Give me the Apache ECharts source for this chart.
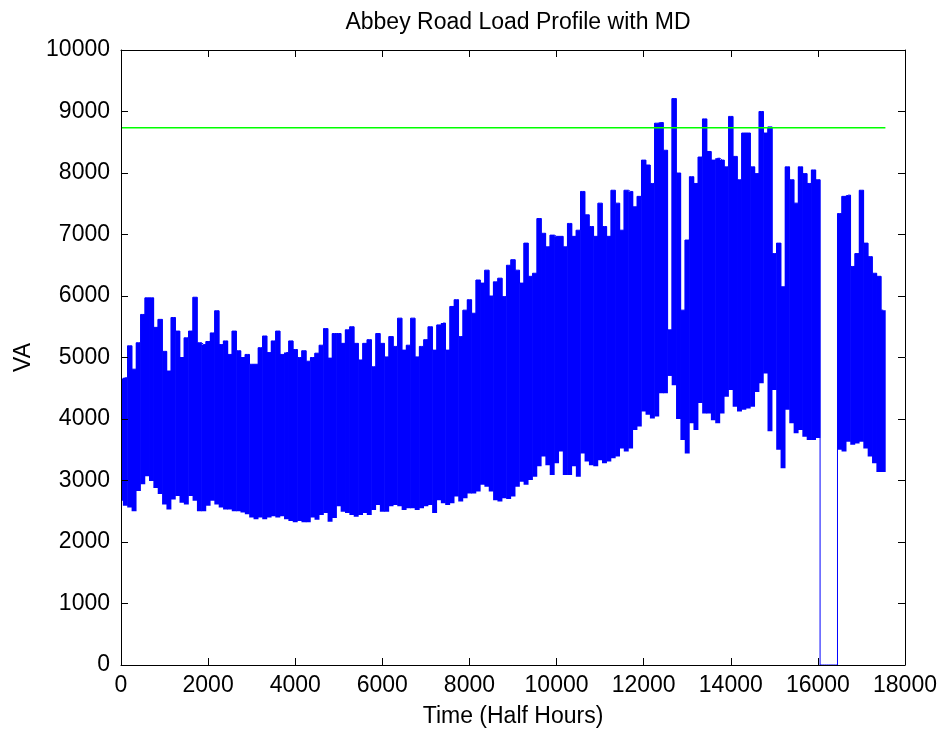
<!DOCTYPE html>
<html>
<head>
<meta charset="utf-8">
<script src="https://cdn.jsdelivr.net/npm/echarts@6/dist/echarts.min.js"></script>
<style>
html,body{margin:0;padding:0;background:#fff;}
#chart{width:941px;height:734px;}
</style>
</head>
<body>
<div id="chart"></div>
<script>
// Sample spacing of the envelope readings (half hours)
const timeStep = 100;
// Upper envelope of the load (VA), one reading per timeStep, starting at t = 0
const vaUpper = [
4650,4670,5190,4810,5240,5700,5970,5970,5490,5620,
5100,4780,5650,5430,5000,5320,5430,5980,5240,5210,
5260,5400,5760,5210,5270,5050,5430,5110,5000,5050,
4890,4890,5160,5350,5080,5270,5430,5050,5080,5270,
5130,5000,5110,4940,5000,5070,5200,5470,4990,5390,
5390,5230,5450,5500,5230,4960,5230,5290,4850,5390,
5230,5010,5340,5180,5640,5120,5200,5640,5010,5180,
5290,5500,5120,5530,5560,5120,5830,5940,5340,5770,
5940,5720,6260,6210,6420,6000,6230,6290,5990,6500,
6590,6420,6210,6860,6320,6370,7260,7020,6800,6990,
6970,6970,6800,7180,6970,7070,7700,7320,7130,6970,
7510,7130,6970,7720,7510,7070,7720,7700,7450,7620,
8210,8130,7830,8810,8820,8370,5450,9210,8000,5770,
6910,7940,7830,8260,8880,8350,8210,8240,8210,8100,
8920,8270,7890,8650,8650,8100,7990,9000,8650,8750,
6690,6860,6150,8100,7890,7510,8100,7990,7830,8050,
7890,0,0,0,0,7340,7620,7640,6480,6690,
7720,6860,6640,6370,6320,5770
];
// Lower envelope of the load (VA)
const vaLower = [
2670,2590,2560,2500,2830,2940,3070,2990,2880,2780,
2610,2530,2690,2750,2640,2610,2750,2670,2500,2500,
2590,2670,2610,2560,2530,2530,2500,2500,2480,2450,
2400,2370,2400,2370,2400,2420,2400,2420,2370,2340,
2320,2340,2320,2320,2400,2360,2440,2470,2330,2390,
2580,2490,2470,2440,2410,2440,2470,2440,2520,2600,
2490,2490,2580,2600,2580,2520,2550,2550,2520,2550,
2580,2600,2470,2680,2630,2600,2630,2740,2660,2710,
2790,2790,2820,2930,2900,2820,2680,2660,2710,2700,
2740,2900,2980,2930,3010,3060,3230,3390,3250,3090,
3280,3470,3090,3090,3230,3060,3440,3310,3250,3230,
3330,3280,3310,3360,3390,3520,3470,3520,3820,3880,
4120,4070,4010,4040,4420,4420,4700,4550,4000,3660,
3440,3930,3820,4260,4090,4090,3980,3930,4090,4360,
4470,4200,4120,4150,4170,4200,4440,4580,4740,3800,
4470,3500,3200,4150,3930,3770,3820,3710,3660,3660,
3690,0,0,0,0,3500,3470,3630,3580,3600,
3630,3520,3390,3280,3140,3140
];
// Maximum demand line
const mdValue = 8735;
const mdSpan = [0, 17550];

const xMax = 18000, xInterval = 2000;
const yMax = 10000, yInterval = 1000;

const bandData = vaUpper.map((v, i) => [i * timeStep, vaLower[i], v]);
const upperPts = vaUpper.map((v, i) => [i * timeStep, v]);
const mdPts = mdSpan.map(t => [t, mdValue]);

const FONT = "'Liberation Sans', Arial, sans-serif";
const lbl = { color: '#000', fontFamily: FONT, fontSize: 23 };
const plain = v => String(v);

const chart = echarts.init(document.getElementById('chart'), null, { renderer: 'canvas' });
const axBase = {
  type: 'value',
  axisLine: { show: true, onZero: false, lineStyle: { color: '#000', width: 1 } },
  axisTick: { show: true, inside: true, length: 7, lineStyle: { color: '#000' } },
  splitLine: { show: false },
  z: 10
};
chart.setOption({
  animation: false,
  backgroundColor: '#fff',
  title: {
    text: 'Abbey Road Load Profile with MD',
    left: 513, top: 6, textAlign: 'center',
    textStyle: { color: '#000', fontFamily: FONT, fontSize: 23, fontWeight: 'normal' }
  },
  grid: { left: 121, right: 36, top: 50, bottom: 69, containLabel: false },
  xAxis: [
    Object.assign({}, axBase, {
      position: 'bottom', min: 0, max: xMax, interval: xInterval,
      axisLabel: Object.assign({ margin: 9, formatter: plain }, lbl),
      name: 'Time (Half Hours)', nameLocation: 'middle', nameGap: 40,
      nameTextStyle: lbl
    }),
    Object.assign({}, axBase, {
      position: 'top', min: 0, max: xMax, interval: xInterval,
      axisLabel: { show: false }
    })
  ],
  yAxis: [
    Object.assign({}, axBase, {
      position: 'left', min: 0, max: yMax, interval: yInterval,
      axisLabel: Object.assign({ margin: 11, formatter: plain }, lbl),
      name: 'VA', nameLocation: 'middle', nameGap: 76, nameRotate: 90,
      nameTextStyle: lbl
    }),
    Object.assign({}, axBase, {
      position: 'right', min: 0, max: yMax, interval: yInterval,
      axisLabel: { show: false }
    })
  ],
  series: [
    {
      type: 'custom', data: bandData, silent: true, z: 2, clip: true,
      encode: { x: 0, y: [1, 2] },
      renderItem: function (params, api) {
        const t = api.value(0), lo = api.value(1), hi = api.value(2);
        if (hi <= lo) return null;
        const a = api.coord([t - timeStep / 2, hi]);
        const b = api.coord([t + timeStep / 2, lo]);
        return {
          type: 'rect',
          shape: { x: a[0] - 0.3, y: a[1], width: b[0] - a[0] + 0.6, height: b[1] - a[1] },
          style: { fill: '#0000ff' }
        };
      }
    },
    { type: 'line', data: upperPts, step: 'middle', symbol: 'none', silent: true, z: 4,
      lineStyle: { color: '#0000ff', width: 1 } },
    { type: 'line', data: mdPts, symbol: 'none', silent: true, z: 5,
      lineStyle: { color: '#00ff00', width: 1.5 } }
  ]
});
</script>
</body>
</html>
